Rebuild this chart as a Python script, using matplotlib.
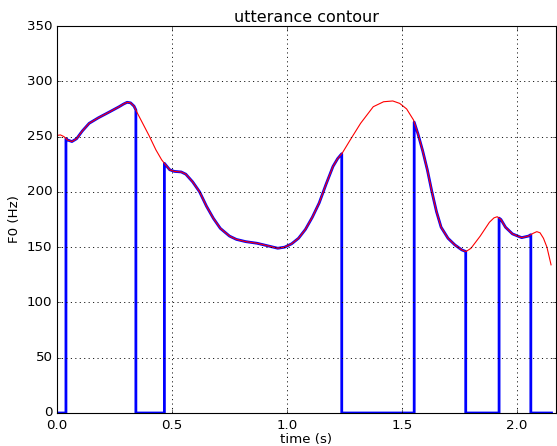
import numpy as np
import matplotlib
matplotlib.use("Agg")
import matplotlib.pyplot as plt

plt.style.use("classic")

# red contour (time s, F0 Hz)
contour_t = [0.000, 0.015, 0.03, 0.045, 0.065, 0.085, 0.11, 0.14, 0.18, 0.23, 0.27, 0.29,
             0.305, 0.32, 0.335, 0.35, 0.37, 0.40, 0.43, 0.455, 0.47, 0.49, 0.51, 0.54, 0.56,
             0.59, 0.62, 0.65, 0.68, 0.71, 0.75, 0.78, 0.82, 0.87, 0.92, 0.96, 0.99, 1.02,
             1.05, 1.08, 1.11, 1.14, 1.17, 1.20, 1.22, 1.24, 1.275, 1.32, 1.375, 1.42,
             1.46, 1.49, 1.52, 1.55, 1.57, 1.59, 1.61, 1.63, 1.65, 1.67, 1.70, 1.73, 1.76,
             1.778, 1.80, 1.84, 1.88, 1.90, 1.914, 1.93, 1.95, 1.98, 2.02, 2.05, 2.07, 2.086,
             2.10, 2.115, 2.13, 2.148]
contour_f0 = [251, 251.5, 250, 247, 245.5, 248, 255, 262, 267, 272.5, 277, 279.5,
              281, 280.5, 277.5, 271, 263, 251, 238, 229, 225, 220, 218.5, 218, 216,
              209, 200, 187, 176, 167, 160, 157, 155, 153.5, 151, 149, 150, 153,
              158, 166, 177, 190, 207, 223, 230, 235, 247, 262, 277, 281.5,
              282.2, 280, 275, 265, 252, 237, 220, 200, 182, 168, 158, 152, 147.5,
              146, 149, 160, 172.5, 176.5, 177.5, 175, 168, 162, 158.6, 160, 162.5, 164,
              163, 158, 150, 134]

# voiced segments (start, end) in seconds
voiced_start = [0.039, 0.467, 1.553, 1.922]
voiced_end = [0.343, 1.238, 1.777, 2.060]
t_end = 2.15

# build blue F0 track (0 when unvoiced)
ct = np.array(contour_t)
cf = np.array(contour_f0)
bt, bf = [0.0], [0.0]
for s, e in zip(voiced_start, voiced_end):
    fs, fe = np.interp([s, e], ct, cf)
    inside = (ct > s) & (ct < e)
    bt += [s, s] + list(ct[inside]) + [e, e]
    bf += [0.0, fs] + list(cf[inside]) + [fe, 0.0]
bt.append(t_end)
bf.append(0.0)

fig = plt.figure(figsize=(557 / 80, 446 / 80), dpi=80, facecolor="white")
ax = fig.add_axes([0.1023, 0.074, 0.8953, 0.8677])
ax.set_facecolor("white")
ax.plot(bt, bf, color="b", linewidth=2.5, solid_joinstyle="round")
ax.plot(ct, cf, color="r", linewidth=1.0, solid_joinstyle="round")
ax.set_xlim(0, 2.168)
ax.set_ylim(0, 350)
ax.set_xticks([0.0, 0.5, 1.0, 1.5, 2.0])
ax.set_yticks(range(0, 351, 50))
ax.tick_params(axis="x", pad=5)
ax.grid(True, color="k", linestyle=":", linewidth=0.8)
ax.set_title("utterance contour", fontsize=14.4, pad=4)
ax.set_xlabel("time (s)", fontsize=12, labelpad=1)
ax.set_ylabel("F0 (Hz)", fontsize=12)
fig.savefig("out.png", dpi=80, facecolor="white")
